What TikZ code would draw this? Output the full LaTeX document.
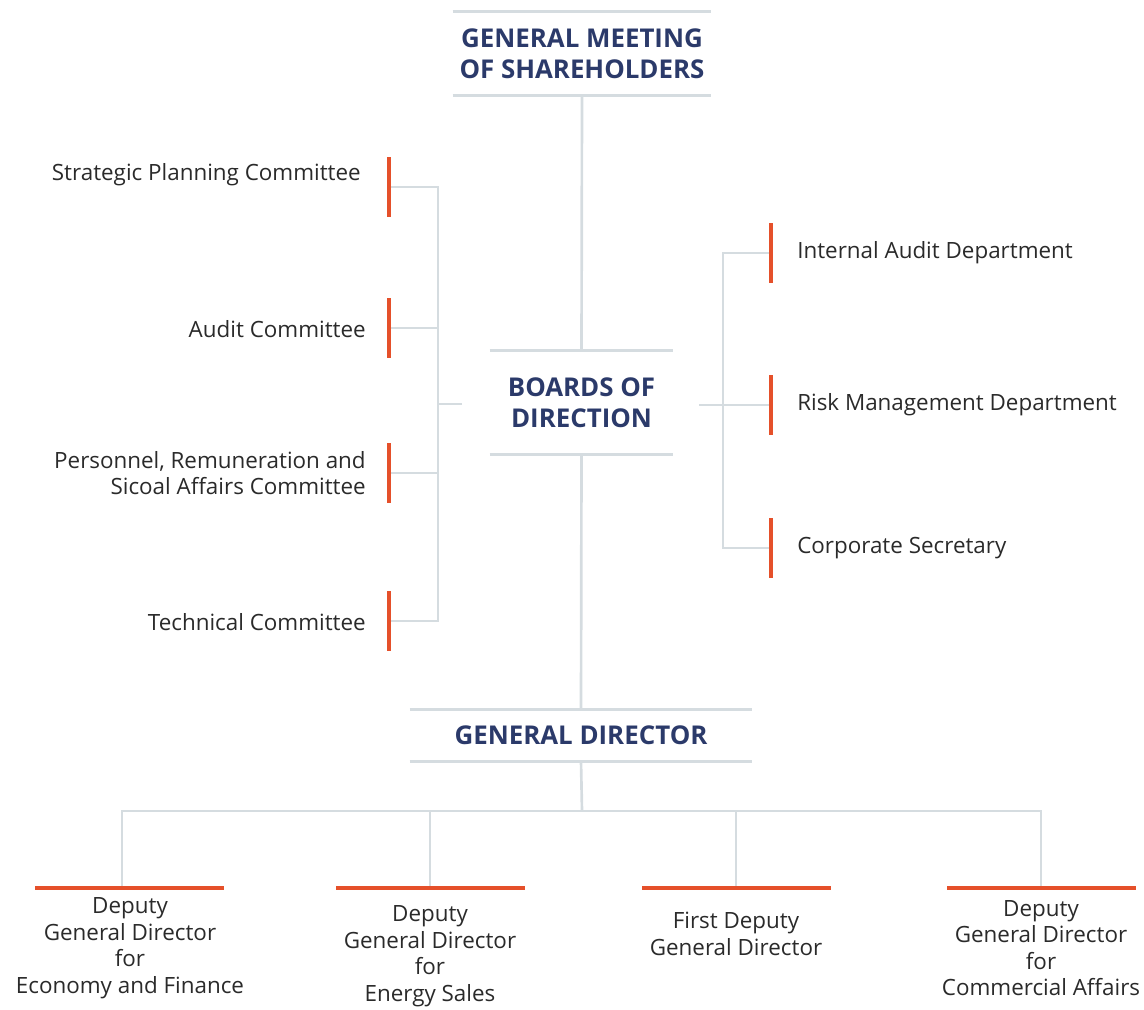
\documentclass[tikz,border=0pt]{standalone}
\usepackage{fontspec}
\setmainfont{Open Sans}
\definecolor{navy}{HTML}{2B3A6A}
\definecolor{rulegray}{HTML}{D5DCE0}
\definecolor{accent}{HTML}{E5502A}
\definecolor{txt}{HTML}{2A2A2A}
\begin{document}
\begin{tikzpicture}[x=0.75pt,y=-0.75pt,
  title/.style={inner sep=0pt, font=\bfseries\fontsize{19.4}{23.3}\selectfont, text=navy, align=center},
  body/.style={inner sep=0pt, font=\fontsize{16.8}{19.9}\selectfont, text=txt},
  conn/.style={draw=rulegray, line width=2pt},
  vbar/.style={fill=accent, inner sep=0pt, minimum width=2.6pt, minimum height=45pt},
  hbar/.style={fill=accent, inner sep=0pt, minimum height=2.6pt, minimum width=141.75pt}]
\useasboundingbox (0,0) rectangle (1144,1009);
% title blocks
\node[title, minimum width=193.5pt, minimum height=62.25pt] (gms) at (582,53.5) {GENERAL MEETING\\OF SHAREHOLDERS};
\node[title, minimum width=137.25pt, minimum height=77.25pt] (bod) at (581.5,402.5) {BOARDS OF\\DIRECTION};
\node[title, minimum width=256.5pt, minimum height=38.25pt] (gd) at (581,735.5) {GENERAL DIRECTOR};
\foreach \n in {gms,bod,gd}{
  \draw[conn] (\n.north west) -- (\n.north east);
  \draw[conn] (\n.south west) -- (\n.south east);
}
\draw[conn] (gms.south) -- (bod.north);
\draw[conn] (bod.south) -- (gd.north);
% left committees
\coordinate (lj) at (438,404);
\coordinate (lstub) at (462,404);
\node[vbar] (l1) at (389,187) {};
\node[vbar] (l2) at (389,328) {};
\node[vbar] (l3) at (389,473) {};
\node[vbar] (l4) at (389,621) {};
\draw[conn] (lstub) -- (lj);
\foreach \i in {1,2,3,4}{\draw[conn] (l\i.east) -| (lj);}
\node[body, anchor=east] (t1) at (361,175) {Strategic Planning Committee};
\node[body, anchor=east] (t2) at (366,329) {Audit Committee};
\node[body, anchor=east, align=right] (t3) at (366,473) {Personnel, Remuneration and\\Sicoal Affairs Committee};
\node[body, anchor=east] (t4) at (366,622) {Technical Committee};
% right departments
\coordinate (rj) at (723,405);
\coordinate (rstub) at (699,405);
\node[vbar] (r1) at (771,253) {};
\node[vbar] (r2) at (771,405) {};
\node[vbar] (r3) at (771,548) {};
\draw[conn] (rstub) -- (rj);
\foreach \i in {1,2,3}{\draw[conn] (r\i.west) -| (rj);}
\node[body, anchor=west] (s1) at (797,253) {Internal Audit Department};
\node[body, anchor=west] (s2) at (797,405) {Risk Management Department};
\node[body, anchor=west] (s3) at (797,548) {Corporate Secretary};
% deputies
\coordinate (bus) at (582,811);
\coordinate (p1) at (122,887);
\coordinate (p2) at (430,887);
\coordinate (p3) at (736,887);
\coordinate (p4) at (1041,887);
\draw[conn] (gd.south) -- (bus);
\foreach \i in {1,2,3,4}{\draw[conn] (bus) -| (p\i);}
\node[hbar] (b1) at (129.5,888) {};
\node[hbar] (b2) at (430.5,888) {};
\node[hbar] (b3) at (736.5,888) {};
\node[hbar] (b4) at (1041.5,888) {};
\node[body, align=center] (d1) at (130,948) {Deputy\\General Director\\for\\Economy and Finance};
\node[body, align=center] (d2) at (430,956) {Deputy\\General Director\\for\\Energy Sales};
\node[body, align=center] (d3) at (736,934) {First Deputy\\General Director};
\node[body, align=center] (d4) at (1041,948) {Deputy\\General Director\\for\\Commercial Affairs};
\end{tikzpicture}
\end{document}
